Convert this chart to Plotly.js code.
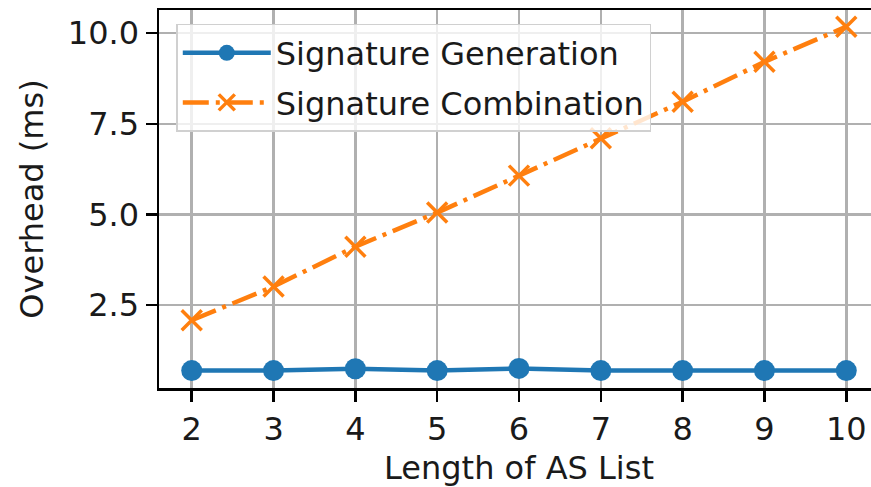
<!DOCTYPE html>
<html>
<head>
<meta charset="utf-8">
<script src="https://cdn.plot.ly/plotly-3.0.1.min.js"></script>
<style>
html, body { margin: 0; padding: 0; overflow: hidden; background: #fff; }
#chart { width: 880px; height: 487px; }
</style>
</head>
<body>
<div id="chart"></div>
<script>
const asLength = [2, 3, 4, 5, 6, 7, 8, 9, 10];
const sigGeneration = [0.69, 0.69, 0.74, 0.69, 0.75, 0.69, 0.69, 0.69, 0.69];
const sigCombination = [2.08, 3.01, 4.11, 5.05, 6.07, 7.10, 8.11, 9.21, 10.18];
const xTickVals = [2, 3, 4, 5, 6, 7, 8, 9, 10];
const yTickVals = [2.5, 5.0, 7.5, 10.0];
const yTickText = ['2.5', '5.0', '7.5', '10.0'];

const FONT = 'DejaVu Sans, sans-serif';
const FS = 32;
const TXT = '#1a1a1a';

const traces = [
  {
    x: asLength, y: sigGeneration, name: 'Signature Generation',
    type: 'scatter', mode: 'lines+markers',
    line: { color: '#1f77b4', width: 4.5 },
    marker: { symbol: 'circle', size: 21, color: '#1f77b4' },
    legendgroup: 'a'
  },
  {
    x: asLength, y: sigCombination, name: 'Signature Combination',
    type: 'scatter', mode: 'lines+markers',
    line: { color: '#ff7f0e', width: 4.5, dash: '26px,7px,4px,7px' },
    marker: { symbol: 'x-thin', size: 20, color: '#ff7f0e', line: { color: '#ff7f0e', width: 3.5 } },
    legendgroup: 'b'
  }
];

const layout = {
  width: 880, height: 487,
  margin: { l: 159, r: 1, t: 10, b: 99 },
  paper_bgcolor: '#fff', plot_bgcolor: '#fff',
  font: { family: FONT, size: FS, color: TXT },
  showlegend: true,
  legend: {
    x: 0.024, y: 0.963, xanchor: 'left', yanchor: 'top',
    bgcolor: 'rgba(255,255,255,0.8)', bordercolor: '#d0d0d0', borderwidth: 1.5,
    font: { family: FONT, size: FS, color: TXT },
    traceorder: 'grouped', tracegroupgap: 5, itemwidth: 88
  },
  xaxis: {
    range: [1.6, 10.4], tickvals: xTickVals, ticktext: xTickVals.map(String),
    showgrid: true, gridcolor: '#b0b0b0', gridwidth: 2.5,
    showline: true, linecolor: '#000', linewidth: 2.5, mirror: true,
    ticks: 'outside', ticklen: 11, tickwidth: 2.5, tickcolor: '#000',
    tickfont: { family: FONT, size: FS, color: TXT },
    zeroline: false,
    title: { text: 'Length of AS List', font: { family: FONT, size: FS, color: TXT }, standoff: 11 }
  },
  yaxis: {
    range: [0.21, 10.64], tickvals: yTickVals, ticktext: yTickText,
    showgrid: true, gridcolor: '#b0b0b0', gridwidth: 2.5,
    showline: true, linecolor: '#000', linewidth: 2.5, mirror: true,
    ticks: 'outside', ticklen: 11, tickwidth: 2.5, tickcolor: '#000',
    tickfont: { family: FONT, size: FS, color: TXT },
    zeroline: false,
    title: { text: 'Overhead (ms)', font: { family: FONT, size: FS, color: TXT }, standoff: 15 }
  }
};

Plotly.newPlot('chart', traces, layout, { displayModeBar: false, staticPlot: true });
</script>
</body>
</html>
